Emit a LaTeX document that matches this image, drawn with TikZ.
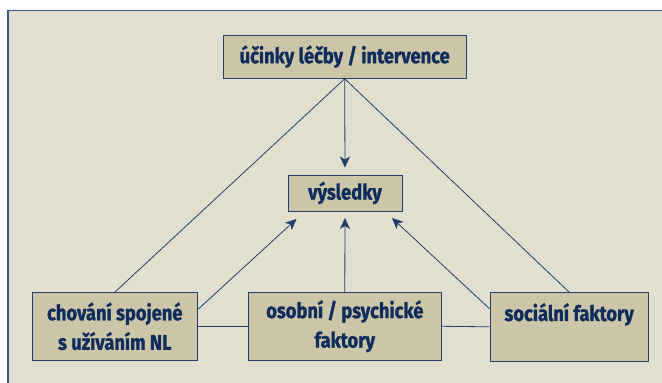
\documentclass[tikz,border=0pt]{standalone}
\usepackage{fontspec}
\setmainfont{Fira Sans}[FakeStretch=0.86,FakeBold=1.2]
\usetikzlibrary{arrows.meta,calc}
\definecolor{bgc}{HTML}{E2DFCF}
\definecolor{boxc}{HTML}{CDC5A8}
\definecolor{txtc}{HTML}{0F2D5C}
\definecolor{linec}{HTML}{203F6C}
\definecolor{framec}{HTML}{34568A}
\begin{document}
\begin{tikzpicture}[x=1pt,y=-1pt,
  box/.style={draw=linec,line width=0.9pt,fill=boxc,text=txtc,inner sep=0pt,align=center,
    font=\fontsize{21.3}{29.5}\selectfont\bfseries},
  conn/.style={draw=linec,line width=0.8pt},
  arr/.style={conn,-{Stealth[length=11pt,width=10pt,inset=3pt]}}]
\useasboundingbox (0,0) rectangle (662,383);
\clip (0,0) rectangle (662,383);
\fill[white] (0,0) rectangle (662,383);
\fill[bgc] (8,10.7) rectangle (662,383);
\draw[framec,line width=1.3pt] (8,383) -- (8,10.7) -- (662,10.7);
\node[box,minimum width=242.7pt,minimum height=43.3pt] (top) at (344.7,56.7) {účinky léčby / intervence};
\node[box,minimum width=114pt,minimum height=36pt] (res) at (345,193) {výsledky};
\node[box,minimum width=165.7pt,minimum height=67.3pt] (chov) at (114.8,326.3) {chování spojené\\s užíváním NL};
\node[box,minimum width=192.3pt,minimum height=67.3pt] (oso) at (344.8,326.3) {osobní / psychické\\faktory};
\node[box,minimum width=158.3pt,minimum height=68.3pt] (soc) at (569.2,326.8) {sociální faktory\\\mbox{}};
\coordinate (tipL) at (296.5,219);
\coordinate (tipR) at (392,218);
\draw[conn] (top.south) -- (chov.north);
\draw[conn] (top.south) -- (soc.north);
\draw[arr,shorten >=7pt] (top.south) -- (res.north);
\draw[arr,shorten >=6.5pt] (oso.north) -- (res.south);
\draw[arr] ($(chov.north east)!0.25!(chov.south east)$) -- (tipL);
\draw[arr] ($(soc.north west)!0.24!(soc.south west)$) -- (tipR);
\draw[conn] (chov.east) -- (oso.west);
\draw[conn] (oso.east) -- (soc.west);
\end{tikzpicture}
\end{document}
